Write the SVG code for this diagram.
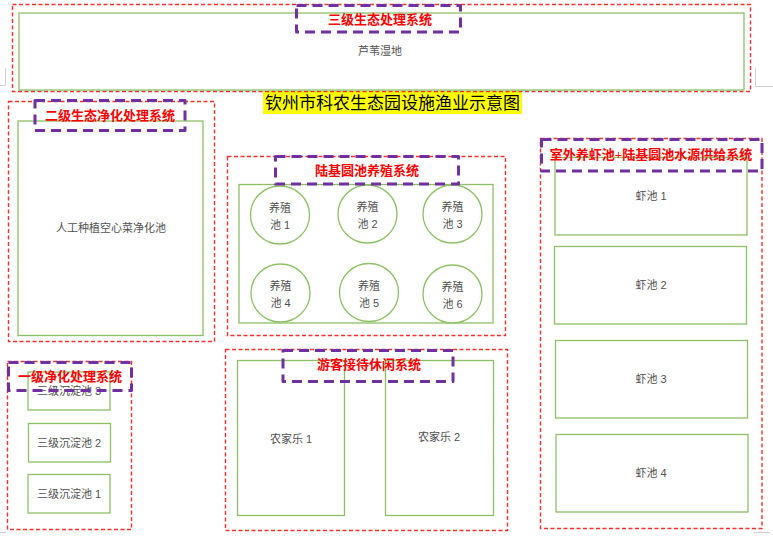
<svg xmlns="http://www.w3.org/2000/svg" width="773" height="537" viewBox="0 0 773 537">
<style>
.sys{fill:none;stroke:#FF2E2E;stroke-width:1.4;stroke-dasharray:4 2.5}
.pool{fill:#FFFFFF;stroke:#8DC066;stroke-width:1.3}
.tag{fill:none;stroke:#7030A0;stroke-width:3;stroke-dasharray:10 6;stroke-linejoin:round}
.lbl{font-family:"Liberation Serif","Noto Sans CJK SC",serif;font-size:13px;font-weight:bold;fill:#FF0000;text-anchor:middle;dominant-baseline:central}
.txt{font-family:"Liberation Sans","Noto Sans CJK SC",sans-serif;font-size:11px;fill:#505050;text-anchor:middle;dominant-baseline:central}
.mark{fill:none;stroke:#D0D0D0;stroke-width:1}
</style>
<rect width="773" height="537" fill="#FFFFFF"/>
<g id="page-marks">
<path class="mark" d="M5.5,68 V85.5 H0"/>
<path class="mark" d="M755.5,68 V86.5 H773"/>
<path class="mark" d="M0,532.5 H6"/>
<path class="mark" d="M754,532.5 H770"/>
</g>
<g id="title">
<rect x="263" y="91" width="259" height="23" fill="#FFFF00"/>
<text x="392.5" y="103" font-family="Liberation Serif,'Noto Sans CJK SC',serif" font-size="17" fill="#000000" text-anchor="middle" dominant-baseline="central" textLength="255" lengthAdjust="spacing">钦州市科农生态园设施渔业示意图</text>
</g>
<g id="sys3">
<rect class="sys" x="12.5" y="4.5" width="738" height="87"/>
<g id="reed-wetland">
<rect class="pool" x="19" y="13" width="725" height="77"/>
<text class="txt" x="380" y="51">芦苇湿地</text>
</g>
<rect class="tag" x="296.5" y="5.5" width="164" height="26.5"/>
<text class="lbl" x="380" y="19">三级生态处理系统</text>
</g>
<g id="sys2">
<rect class="sys" x="8.5" y="101.5" width="206" height="240"/>
<g id="spinach-pool">
<rect class="pool" x="18" y="121" width="185" height="214.5"/>
<text class="txt" x="111" y="228">人工种植空心菜净化池</text>
</g>
<rect class="tag" x="35" y="100.5" width="150" height="30"/>
<text class="lbl" x="110" y="115">二级生态净化处理系统</text>
</g>
<g id="sys1">
<rect class="sys" x="7.5" y="361.5" width="124" height="168"/>
<g id="settle3">
<rect class="pool" x="28" y="372" width="82" height="38"/>
<text class="txt" x="69" y="391">三级沉淀池 3</text>
</g>
<g id="settle2">
<rect class="pool" x="28.5" y="423.5" width="82" height="38.5"/>
<text class="txt" x="69" y="443">三级沉淀池 2</text>
</g>
<g id="settle1">
<rect class="pool" x="28" y="474.5" width="82" height="38.5"/>
<text class="txt" x="69" y="494">三级沉淀池 1</text>
</g>
<rect class="tag" x="8.5" y="362.5" width="123" height="28"/>
<text class="lbl" x="70" y="376">一级净化处理系统</text>
</g>
<g id="sys-ponds">
<rect class="sys" x="227.5" y="156.5" width="278" height="179"/>
<rect class="pool" x="239" y="184.5" width="254" height="138.5"/>
<g id="pond1">
<ellipse class="pool" cx="280" cy="215" rx="29.5" ry="29"/>
<text class="txt" x="280" y="208">养殖</text>
<text class="txt" x="280" y="225">池 1</text>
</g>
<g id="pond2">
<ellipse class="pool" cx="367.5" cy="214" rx="29.5" ry="29"/>
<text class="txt" x="367.5" y="207">养殖</text>
<text class="txt" x="367.5" y="224">池 2</text>
</g>
<g id="pond3">
<ellipse class="pool" cx="452.5" cy="214" rx="29.5" ry="29"/>
<text class="txt" x="452.5" y="207">养殖</text>
<text class="txt" x="452.5" y="224">池 3</text>
</g>
<g id="pond4">
<ellipse class="pool" cx="280.5" cy="293" rx="29.5" ry="29"/>
<text class="txt" x="280.5" y="286">养殖</text>
<text class="txt" x="280.5" y="303">池 4</text>
</g>
<g id="pond5">
<ellipse class="pool" cx="369" cy="292.5" rx="29.5" ry="29"/>
<text class="txt" x="369" y="285.5">养殖</text>
<text class="txt" x="369" y="302.5">池 5</text>
</g>
<g id="pond6">
<ellipse class="pool" cx="452.5" cy="294" rx="29.5" ry="29"/>
<text class="txt" x="452.5" y="287">养殖</text>
<text class="txt" x="452.5" y="304">池 6</text>
</g>
<rect class="tag" x="275.5" y="156.5" width="183" height="27.5"/>
<text class="lbl" x="367" y="170">陆基圆池养殖系统</text>
</g>
<g id="sys-leisure">
<rect class="sys" x="225.5" y="349.5" width="282" height="181"/>
<g id="farm1">
<rect class="pool" x="237.5" y="360.5" width="107" height="155"/>
<text class="txt" x="291" y="439">农家乐 1</text>
</g>
<g id="farm2">
<rect class="pool" x="385.5" y="360.5" width="108" height="155"/>
<text class="txt" x="439" y="437">农家乐 2</text>
</g>
<rect class="tag" x="283" y="350.5" width="170" height="31"/>
<text class="lbl" x="369" y="364">游客接待休闲系统</text>
</g>
<g id="sys-shrimp">
<rect class="sys" x="540.5" y="138.5" width="221.5" height="390"/>
<g id="shrimp1">
<rect class="pool" x="555" y="157.5" width="192" height="77.5"/>
<text class="txt" x="651" y="196">虾池 1</text>
</g>
<g id="shrimp2">
<rect class="pool" x="554.5" y="246.5" width="192" height="77.5"/>
<text class="txt" x="651" y="285">虾池 2</text>
</g>
<g id="shrimp3">
<rect class="pool" x="555.5" y="340.5" width="192" height="77.5"/>
<text class="txt" x="651" y="379">虾池 3</text>
</g>
<g id="shrimp4">
<rect class="pool" x="556" y="434.5" width="192" height="77.5"/>
<text class="txt" x="651" y="473">虾池 4</text>
</g>
<rect class="tag" x="541.5" y="139.5" width="220.5" height="31.5"/>
<text class="lbl" x="651" y="154">室外养虾池+陆基圆池水源供给系统</text>
</g>
<g id="connectors"/>
</svg>
